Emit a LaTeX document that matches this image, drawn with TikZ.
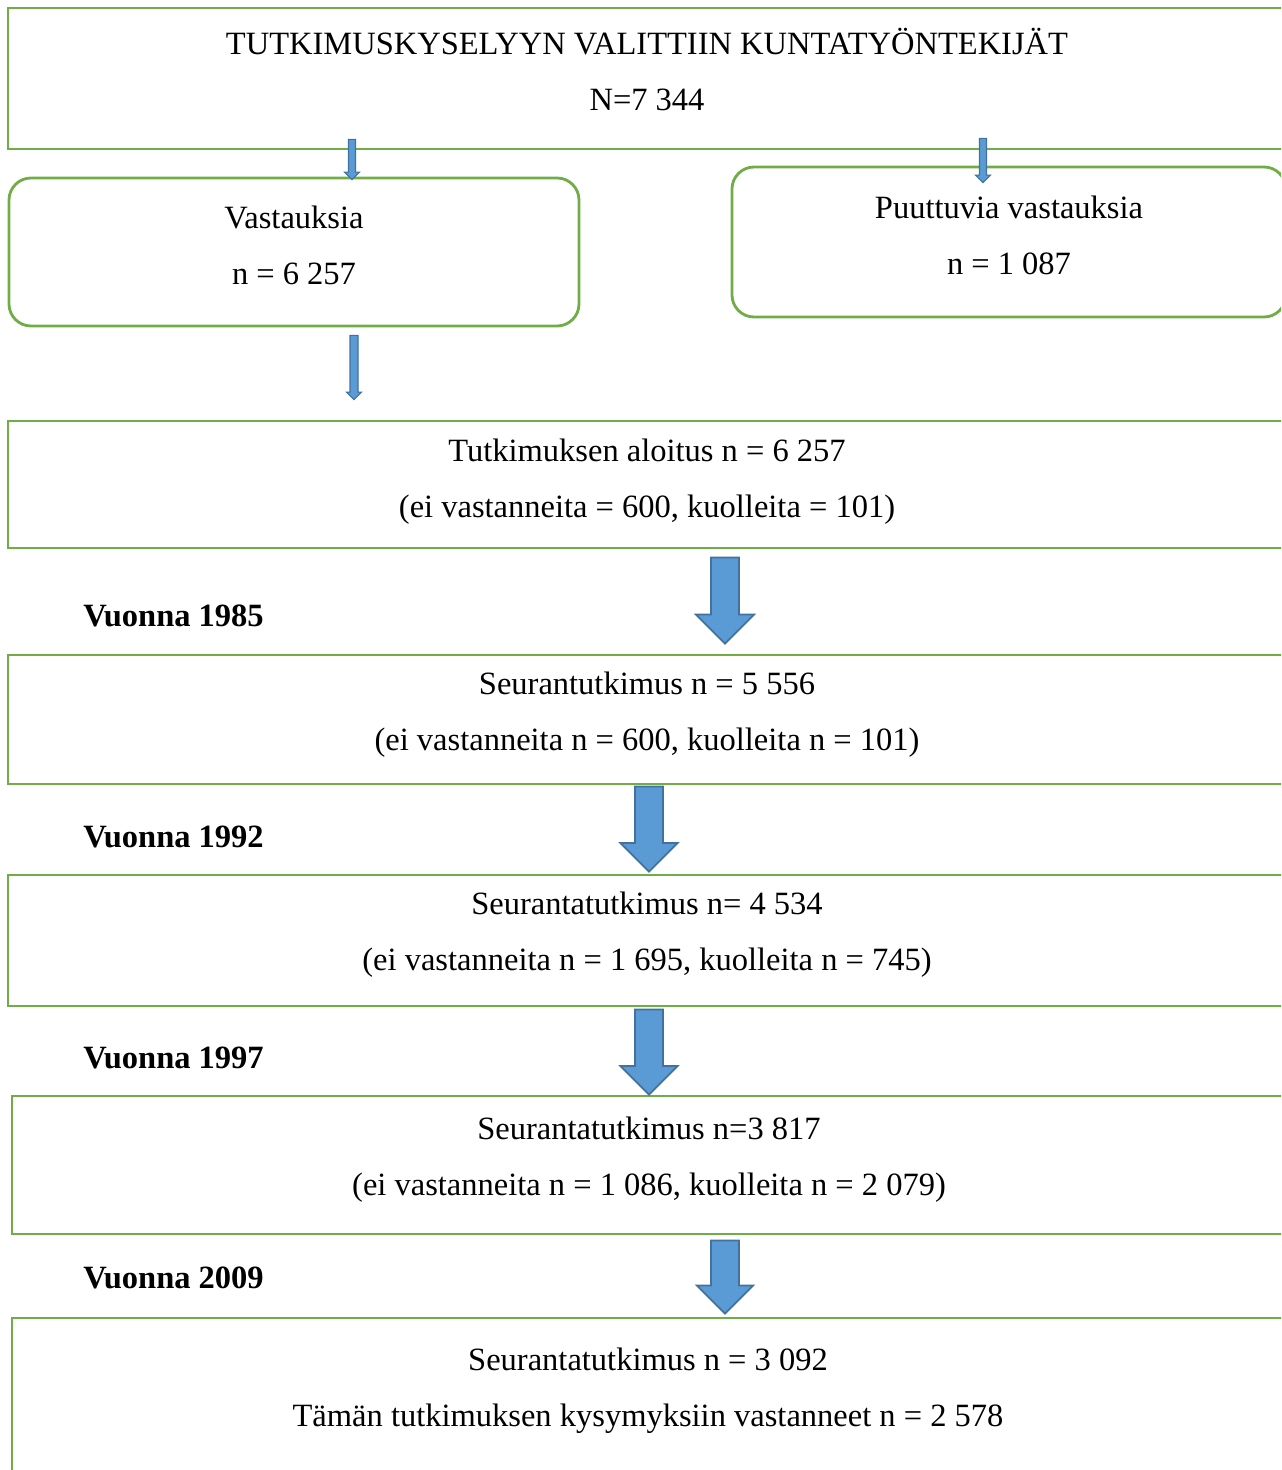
\documentclass[tikz,border=0pt]{standalone}
\usepackage{fontspec}
\setmainfont{Liberation Serif}
\usetikzlibrary{calc}
\definecolor{boxgreen}{RGB}{112,173,71}
\definecolor{arrblue}{RGB}{91,155,213}
\definecolor{arredge}{RGB}{65,113,156}
\newcommand\pxu{0.02cm}
% #1 from, #2 to, #3 shaft half width, #4 head half width, #5 head length (px)
\newcommand\blockarrow[5]{%
  \path[#5] let \p1=(#1), \p2=(#2) in
    ({\x1-#3*\pxu},\y1) -- ({\x1+#3*\pxu},\y1) -- ({\x1+#3*\pxu},{\y2+#4*\pxu})
    -- ({\x1+#4*\pxu},{\y2+#4*\pxu}) -- (\x2,\y2) -- ({\x1-#4*\pxu},{\y2+#4*\pxu})
    -- ({\x1-#3*\pxu},{\y2+#4*\pxu}) -- cycle;}

\begin{document}
\begin{tikzpicture}[x=0.02cm,y=-0.02cm,
  box/.style={draw=boxgreen,line width=1.6pt,minimum width=1278*\pxu,inner sep=0pt},
  rbox/.style={box,rounded corners=0.44cm},
  txt/.style={align=center,inner sep=0pt,font=\fontsize{18.5pt}{31.8pt}\selectfont},
  yr/.style={anchor=west,inner sep=0pt,font=\fontsize{18.5pt}{31.8pt}\selectfont\bfseries},
  arr/.style={fill=arrblue,draw=arredge,line width=1pt,line join=miter},
  thinarr/.style={arr,line width=0.6pt}
]
  \useasboundingbox (0,0) rectangle (1281,1470);
  \clip (0,0) rectangle (1281,1470);

  \node[box,minimum height=141*\pxu] (b1) at (647,78.5) {};
  \node[rbox,minimum width=570*\pxu,minimum height=148*\pxu] (b2) at (294,252) {};
  \node[rbox,minimum width=554*\pxu,minimum height=150*\pxu] (b3) at (1009,242) {};
  \node[box,minimum height=127*\pxu] (b4) at (647,484.5) {};
  \node[box,minimum height=129*\pxu] (b5) at (647,719.5) {};
  \node[box,minimum height=131*\pxu] (b6) at (647,940.5) {};
  \node[box,minimum width=1274*\pxu,minimum height=138*\pxu] (b7) at (649,1165) {};
  \node[box,minimum width=1274*\pxu,minimum height=182*\pxu] (b8) at (649,1409) {};

  \node[txt] (t1) at (647,69.5) {TUTKIMUSKYSELYYN VALITTIIN KUNTATYÖNTEKIJÄT\\N=7 344};
  \node[txt] (t2) at (294,245) {Vastauksia\\n = 6 257};
  \node[txt] (t3) at (1009,235) {Puuttuvia vastauksia\\n = 1 087};
  \node[txt] (t4) at (647,482) {Tutkimuksen aloitus n = 6 257\\(ei vastanneita = 600, kuolleita = 101)};
  \node[txt] (t5) at (647,715) {Seurantutkimus n = 5 556\\(ei vastanneita n = 600, kuolleita n = 101)};
  \node[txt] (t6) at (647,935) {Seurantatutkimus n= 4 534\\(ei vastanneita n = 1 695, kuolleita n = 745)};
  \node[txt] (t7) at (649,1159.5) {Seurantatutkimus n=3 817\\(ei vastanneita n = 1 086, kuolleita n = 2 079)};
  \node[txt] (t8) at (648,1390.5) {Seurantatutkimus n = 3 092\\Tämän tutkimuksen kysymyksiin vastanneet n = 2 578};

  \node[yr] (y85) at (83,616) {Vuonna 1985};
  \node[yr] (y92) at (83,837) {Vuonna 1992};
  \node[yr] (y97) at (83,1058) {Vuonna 1997};
  \node[yr] (y09) at (83,1278) {Vuonna 2009};

  \blockarrow{[shift={(-295,-11)}]b1.south}{[shift={(58,3)}]b2.north}{3.5}{7.5}{thinarr}
  \blockarrow{[shift={(336,-12)}]b1.south}{[shift={(-26,17)}]b3.north}{3.5}{7.5}{thinarr}
  \blockarrow{[shift={(60,8)}]b2.south}{[shift={(-293,-20)}]b4.north}{4}{7.5}{thinarr}
  \blockarrow{[shift={(78,8)}]b4.south}{[shift={(78,-10)}]b5.north}{14}{29}{arr}
  \blockarrow{[shift={(2,1)}]b5.south}{[shift={(2,-2)}]b6.north}{14}{28.5}{arr}
  \blockarrow{[shift={(2,2)}]b6.south}{b7.north}{14}{28.5}{arr}
  \blockarrow{[shift={(76,5)}]b7.south}{[shift={(76,-3)}]b8.north}{14}{28}{arr}
\end{tikzpicture}
\end{document}
